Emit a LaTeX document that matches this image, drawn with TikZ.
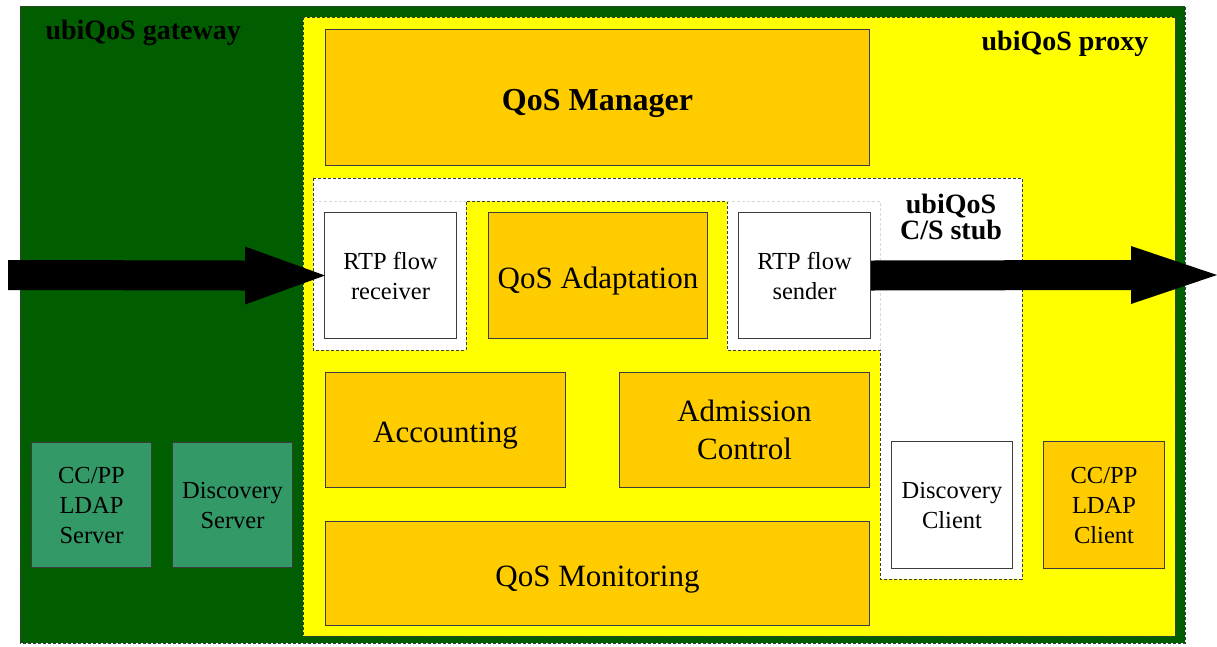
\documentclass[tikz,border=0pt]{standalone}
\usepackage{fontspec}
\setmainfont{Liberation Serif}
\usetikzlibrary{calc}
\definecolor{gwgreen}{RGB}{0,94,0}
\definecolor{pxyellow}{RGB}{255,255,0}
\definecolor{qorange}{RGB}{255,204,0}
\definecolor{srvgreen}{RGB}{51,153,102}
\definecolor{bordergray}{RGB}{60,60,60}
\tikzset{
  region/.style={draw=bordergray, line width=1pt, dash pattern=on 3pt off 2pt},
  faint/.style={draw=black!15, line width=0.8pt, dash pattern=on 3pt off 2pt},
  boxbase/.style={draw=bordergray, line width=1pt, inner sep=0pt, align=center, anchor=north west},
  obox/.style={boxbase, fill=qorange},
  wbox/.style={boxbase, fill=white},
  gbox/.style={boxbase, fill=srvgreen},
  bigtext/.style={font=\fontsize{31}{38}\selectfont},
  oneline/.style={text height=25pt, text depth=0pt},
  midtext/.style={font=\fontsize{24.5}{30}\selectfont},
  title/.style={font=\fontsize{28}{26}\selectfont\bfseries, align=center},
  flow/.style={fill=black}
}
\begin{document}
\begin{tikzpicture}[x=1pt,y=-1pt]
\useasboundingbox (0,0) rectangle (1217,646);
% gateway
\path[region, fill=gwgreen] (20,6) rectangle (1185,643);
% proxy
\path[region, fill=pxyellow] (303,17) rectangle (1175,636);
% C/S stub region
\path[region, fill=white] (313,178) -- (1022,178) -- (1022,579) -- (880,579) -- (880,350) -- (727,350) -- (727,201) -- (466,201) -- (466,350) -- (313,350) -- cycle;
\draw[faint] (314,201) -- (466,201);
\draw[faint] (727,201) -- (880,201) -- (880,350);

% titles
\node[title, anchor=west] (gwtitle) at (42,33) {ubiQoS gateway};
\node[title] (pxtitle) at (1065,44) {ubiQoS proxy};
\node[title] (stubtitle) at (951,217) {ubiQoS\\C/S stub};

% boxes
\node[obox, minimum width=544pt, minimum height=136pt, oneline, font=\fontsize{32}{38}\selectfont\bfseries] (mgr) at (325,29) {QoS Manager};
\node[wbox, minimum width=132pt, minimum height=126pt, midtext] (recv) at (324,212) {RTP flow\\receiver};
\node[obox, minimum width=219pt, minimum height=126pt, bigtext, oneline] (adapt) at (488,212) {QoS Adaptation};
\node[wbox, minimum width=132pt, minimum height=126pt, midtext] (send) at (738,212) {RTP flow\\sender};
\node[obox, minimum width=240pt, minimum height=115pt, bigtext, oneline] (acct) at (325,372) {Accounting};
\node[obox, minimum width=250pt, minimum height=115pt, bigtext] (adm) at (619,372) {Admission\\Control};
\node[obox, minimum width=544pt, minimum height=104pt, bigtext, oneline] (mon) at (325,521) {QoS Monitoring};
\node[wbox, minimum width=121pt, minimum height=127pt, midtext] (dclient) at (891,441) {Discovery\\Client};
\node[obox, minimum width=121pt, minimum height=127pt, midtext] (lclient) at (1043,441) {CC/PP\\LDAP\\Client};
\node[gbox, minimum width=120pt, minimum height=125pt, midtext] (lserver) at (31,442) {CC/PP\\LDAP\\Server};
\node[gbox, minimum width=120pt, minimum height=125pt, midtext] (dserver) at (172,442) {Discovery\\Server};

% flows (block arrows)
\coordinate (inflow) at (8,275);
\coordinate (outflow) at (1217,275);
\fill[flow] ($(recv.west)+(1,0)$) -- ($(recv.west)+(-79,-29)$) -- ($(recv.west)+(-79,-15)$)
  -- ($(inflow)+(0,-15)$) -- ($(inflow)+(0,15)$)
  -- ($(recv.west)+(-79,15)$) -- ($(recv.west)+(-79,29)$) -- cycle;
\fill[flow] (outflow) -- ($(outflow)+(-86,-29)$) -- ($(outflow)+(-86,-15)$)
  -- ($(send.east)+(0,-15)$) -- ($(send.east)+(0,15)$)
  -- ($(outflow)+(-86,15)$) -- ($(outflow)+(-86,29)$) -- cycle;
\end{tikzpicture}
\end{document}
